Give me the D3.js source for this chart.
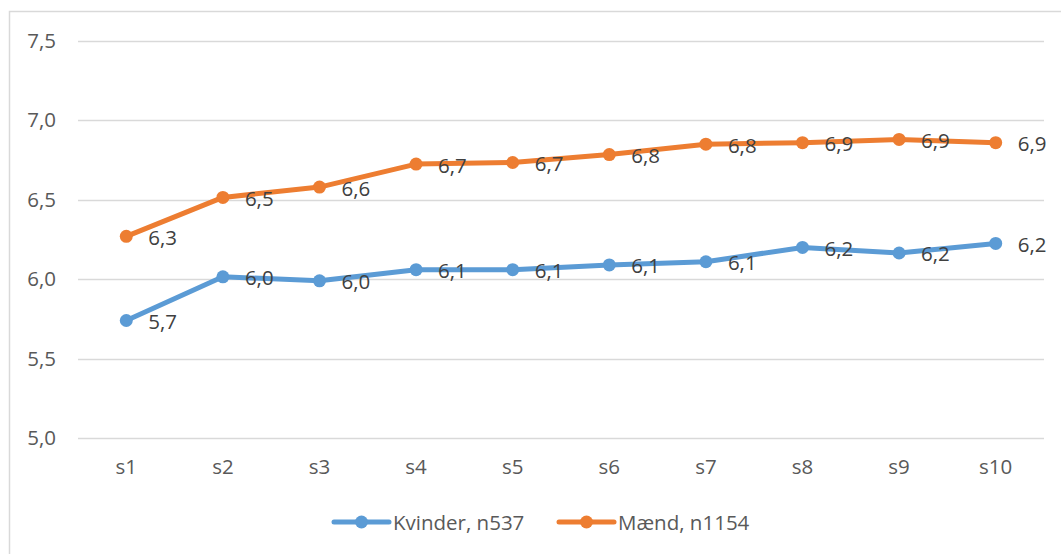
<!DOCTYPE html>
<html>
<head>
<meta charset="utf-8">
<script src="https://cdn.jsdelivr.net/npm/d3@7"></script>
<style>
    body { margin: 0; background: #fff; }
    text { font-family: "Open Sans", "DejaVu Sans", sans-serif; }
</style>
</head>
<body>
<div id="chart"></div>
<script>
// data
var categories = ["s1", "s2", "s3", "s4", "s5", "s6", "s7", "s8", "s9", "s10"];
var kvinder = [5.74, 6.015, 5.99, 6.06, 6.06, 6.09, 6.11, 6.2, 6.165, 6.225];
var maend = [6.27, 6.515, 6.58, 6.725, 6.735, 6.785, 6.85, 6.86, 6.88, 6.86];
var yTicks = [5.0, 5.5, 6.0, 6.5, 7.0, 7.5];
var seriesNames = ["Kvinder, n537", "Mænd, n1154"];
var seriesColors = ["#5B9BD5", "#ED7D31"];

var width = 1061, height = 554;
var margin = {top: 41, right: 17, bottom: 116, left: 78};
var fontSize = "20.5px";

var svg = d3.select("#chart").append("svg")
    .attr("width", width)
    .attr("height", height);

// chart frame
svg.append("rect")
    .attr("x", 9.5)
    .attr("y", 11.5)
    .attr("width", width)
    .attr("height", height)
    .attr("fill", "none")
    .attr("stroke", "#d9d9d9")
    .attr("stroke-width", 1.5);

var x = d3.scaleBand()
    .domain(categories)
    .range([margin.left, width - margin.right]);

var y = d3.scaleLinear()
    .domain([5.0, 7.5])
    .range([height - margin.bottom, margin.top]);

var fmt = function(v){ return d3.format(".1f")(v).replace(".", ","); };

//gridlines
svg.append("g").selectAll("line")
    .data(yTicks)
    .enter().append("line")
    .attr("x1", margin.left)
    .attr("x2", width - margin.right)
    .attr("y1", function(d){ return Math.round(y(d)) + 0.5; })
    .attr("y2", function(d){ return Math.round(y(d)) + 0.5; })
    .attr("stroke", "#d9d9d9")
    .attr("stroke-width", 1.5);

// y axis labels
var yAxis = d3.axisLeft(y).tickValues(yTicks).tickFormat(fmt).tickSize(0).tickPadding(22);
var yg = svg.append("g")
    .attr("transform", "translate(" + margin.left + ",0)")
    .call(yAxis);
yg.select(".domain").remove();
yg.selectAll("text")
    .style("font-size", fontSize)
    .attr("fill", "#595959");

// x axis labels
var xAxis = d3.axisBottom(x).tickSize(0).tickPadding(21);
var xg = svg.append("g")
    .attr("transform", "translate(0," + y(5.0) + ")")
    .call(xAxis);
xg.select(".domain").remove();
xg.selectAll("text")
    .style("font-size", fontSize)
    .attr("fill", "#595959");

var series = [kvinder, maend];
var line = d3.line()
    .x(function(d, i){ return x(categories[i]) + x.bandwidth() / 2; })
    .y(function(d){ return y(d); });

series.forEach(function(values, s){
    var g = svg.append("g");
    g.append("path")
        .datum(values)
        .attr("d", line)
        .attr("fill", "none")
        .attr("stroke", seriesColors[s])
        .attr("stroke-width", 5)
        .attr("stroke-linejoin", "round");
    g.selectAll("circle")
        .data(values)
        .enter().append("circle")
        .attr("cx", function(d, i){ return x(categories[i]) + x.bandwidth() / 2; })
        .attr("cy", function(d){ return y(d); })
        .attr("r", 6.5)
        .attr("fill", seriesColors[s]);
    g.selectAll("text")
        .data(values)
        .enter().append("text")
        .attr("x", function(d, i){ return x(categories[i]) + x.bandwidth() / 2 + 22; })
        .attr("y", function(d){ return y(d) + 8.5; })
        .style("font-size", fontSize)
        .attr("fill", "#404040")
        .text(fmt);
});

// legend
var legendX = [334, 559];
var legendY = 522;
seriesNames.forEach(function(name, s){
    var lg = svg.append("g").attr("transform", "translate(" + legendX[s] + "," + legendY + ")");
    lg.append("line")
        .attr("x1", 0).attr("x2", 55)
        .attr("y1", 0).attr("y2", 0)
        .attr("stroke", seriesColors[s])
        .attr("stroke-width", 5)
        .attr("stroke-linecap", "round");
    lg.append("circle")
        .attr("cx", 27.5).attr("cy", 0).attr("r", 6.5)
        .attr("fill", seriesColors[s]);
    lg.append("text")
        .attr("x", 59)
        .attr("y", 7.5)
        .style("font-size", fontSize)
        .attr("fill", "#595959")
        .text(name);
});
</script>
</body>
</html>
